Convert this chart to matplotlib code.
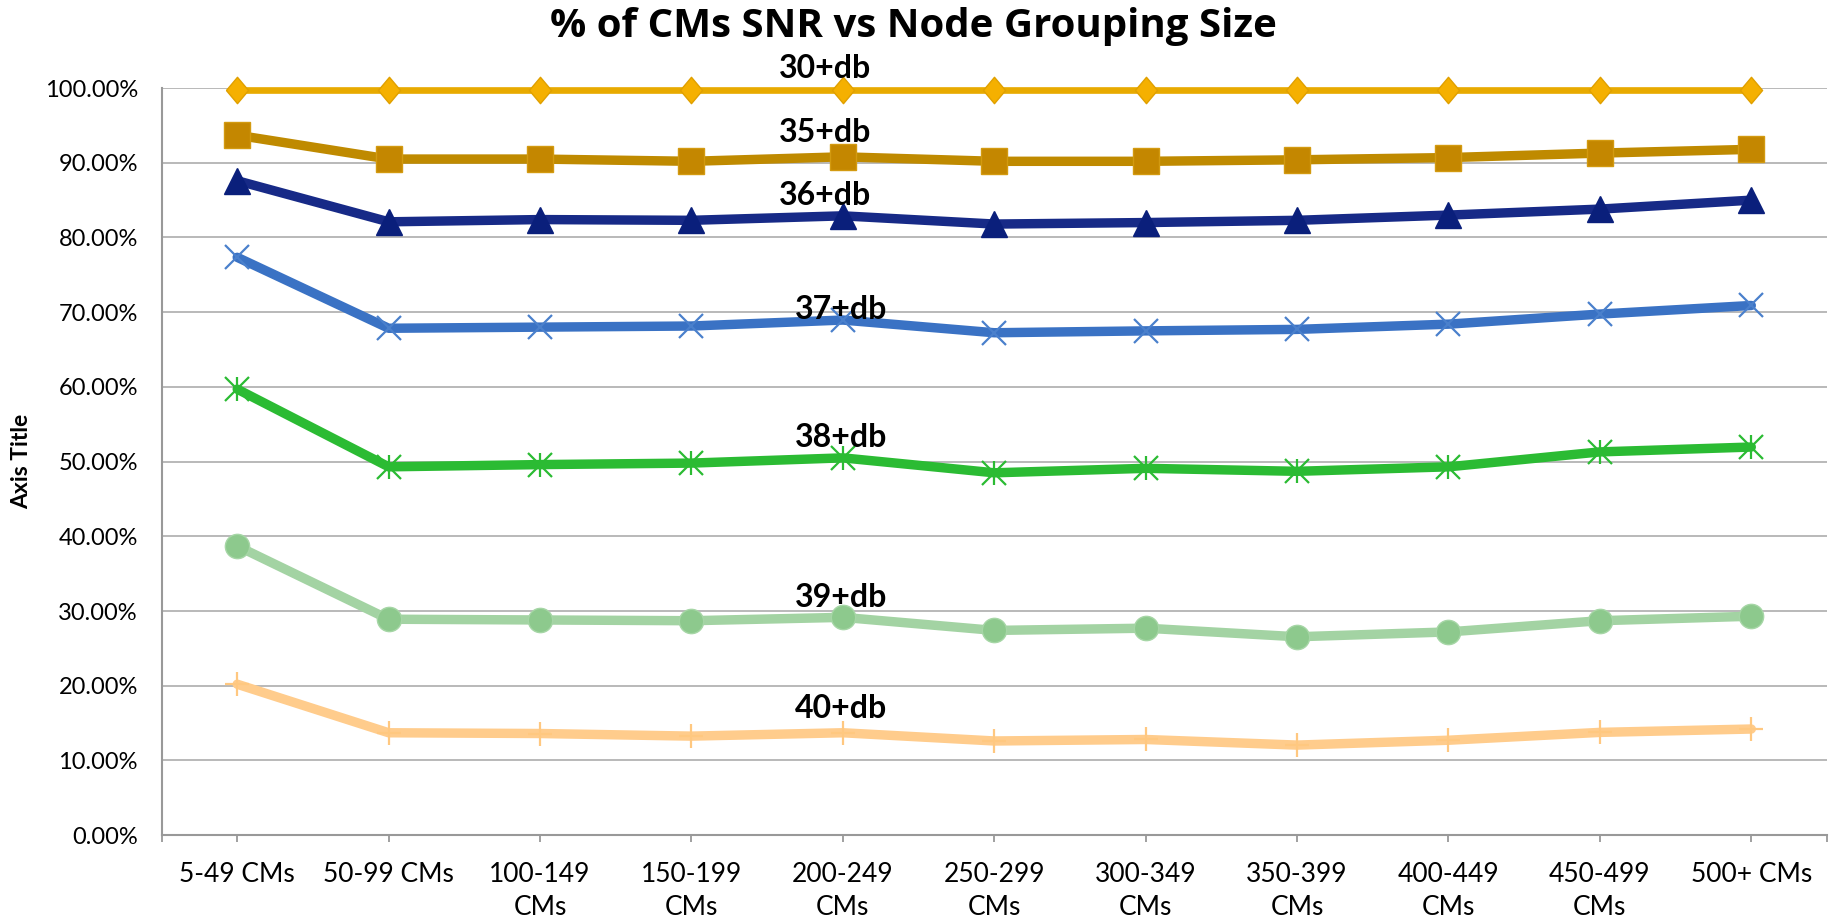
import matplotlib
matplotlib.use("Agg")
import matplotlib.pyplot as plt
from matplotlib.ticker import FuncFormatter, FixedLocator

plt.rcParams['font.family'] = ['Lato', 'DejaVu Sans']

categories = ['5-49 CMs', '50-99 CMs', '100-149\nCMs', '150-199\nCMs', '200-249\nCMs',
              '250-299\nCMs', '300-349\nCMs', '350-399\nCMs', '400-449\nCMs',
              '450-499\nCMs', '500+ CMs']

series_names = ['30+db', '35+db', '36+db', '37+db', '38+db', '39+db', '40+db']
s30 = [99.7, 99.7, 99.7, 99.7, 99.7, 99.7, 99.7, 99.7, 99.7, 99.7, 99.7]
s35 = [93.7, 90.5, 90.5, 90.2, 90.8, 90.2, 90.2, 90.4, 90.7, 91.3, 91.8]
s36 = [87.6, 82.1, 82.4, 82.3, 82.9, 81.8, 82.0, 82.3, 83.0, 83.8, 85.0]
s37 = [77.35, 67.85, 68.0, 68.15, 68.95, 67.25, 67.5, 67.7, 68.4, 69.75, 70.9]
s38 = [59.7, 49.3, 49.6, 49.8, 50.5, 48.5, 49.1, 48.7, 49.3, 51.3, 51.95]
s39 = [38.7, 28.9, 28.8, 28.7, 29.15, 27.4, 27.7, 26.55, 27.2, 28.7, 29.3]
s40 = [20.2, 13.7, 13.6, 13.25, 13.7, 12.6, 12.8, 12.05, 12.7, 13.75, 14.2]
all_series = [s30, s35, s36, s37, s38, s39, s40]

yticks = [0, 10, 20, 30, 40, 50, 60, 70, 80, 90, 100]

W, H = 1835, 922
fig = plt.figure(figsize=(W / 100, H / 100), dpi=100)
x0, x1, ytop, ybot = 161.5, 1827, 88.1, 835.1
ax = fig.add_axes([x0 / W, 1 - ybot / H, (x1 - x0) / W, (ybot - ytop) / H])

# style per series
diamond = [(-0.84, 0), (0, 1), (0.84, 0), (0, -1), (-0.84, 0)]
styles = [
    dict(color='#E8AA00', lw=4.8, marker=diamond, ms=19, mfc='#F5B000', mec='#E0A000', mew=1.0),
    dict(color='#BF8A00', lw=6.8, marker='s', ms=18.5, mfc='#C48700', mec='#D39A10', mew=1.0),
    dict(color='#172A87', lw=6.8, marker='^', ms=19, mfc='#0A1F7B', mec='#0A1F7B', mew=1.0),
    dict(color='#3A72C4', lw=6.8, marker='x', ms=17, mfc='#3A72C4', mec='#4A80CC', mew=1.6),
    dict(color='#2BBB33', lw=6.8, marker='x', ms=17, mfc='#2BBB33', mec='#2BBB33', mew=1.6),
    dict(color='#A3D3A3', lw=6.8, marker='o', ms=17.5, mfc='#8DC98D', mec='#A6D6A6', mew=1.0),
    dict(color='#FFCC8C', lw=6.8, marker='+', ms=17, mfc='#FFCC8C', mec='#FFC880', mew=1.6),
]

xs = list(range(len(categories)))
for i, (vals, st) in enumerate(zip(all_series, styles)):
    v = [a / 100 for a in vals]
    ax.plot(xs, v, solid_joinstyle='round', solid_capstyle='round', clip_on=False,
            zorder=3 + i, **st)
    if series_names[i] == '38+db':
        ax.plot(xs, v, linestyle='none', marker='|', ms=17, mec='#2BBB33', mew=1.6,
                clip_on=False, zorder=3 + i)

# data labels (series names) near 200-249 point
label_offsets_px = [(-18, 12.5), (-18, 15.2), (-18, 10.5), (-2, 1.5), (-2, 11.2), (-2, 10.5), (-2, 14.5)]
for name, vals, (dx, dy) in zip(series_names, all_series, label_offsets_px):
    ax.annotate(name, xy=(4, vals[4] / 100), xytext=(dx * 0.72, dy * 0.72),
                textcoords='offset points', ha='center', va='baseline',
                fontsize=23, fontweight='bold', color='black', zorder=20,
                annotation_clip=False)

ax.set_xlim(-0.5, 10.5)
ax.set_ylim(0, 1.0)
ax.set_xticks(xs)
ax.set_xticklabels(categories, fontsize=19, linespacing=1.4)
ax.set_xticks([-0.5, 10.5], minor=True)
ax.yaxis.set_major_locator(FixedLocator([t / 100 for t in yticks]))
ax.yaxis.set_major_formatter(FuncFormatter(lambda v, p: f'{v * 100:.2f}%'))

ax.tick_params(axis='y', length=0, pad=17, labelsize=17, labelcolor='black')
ax.tick_params(axis='x', which='both', length=5, width=1.3, color='#999999', pad=14.5,
               labelcolor='black')

for side in ['top', 'right']:
    ax.spines[side].set_visible(False)
for side in ['left', 'bottom']:
    ax.spines[side].set_color('#999999')
    ax.spines[side].set_linewidth(1.5)

ax.yaxis.grid(True, color='#A6A6A6', linewidth=1.1)
ax.set_axisbelow(True)

fig.text(913 / W, 1 - 27 / H, '% of CMs SNR vs Node Grouping Size', ha='center', va='center',
         fontsize=29, fontweight='bold', color='black', family=['Open Sans', 'DejaVu Sans'])
fig.text(22 / W, 1 - 461 / H, 'Axis Title', rotation=90, ha='center', va='center',
         fontsize=16.5, fontweight='bold', color='black')

fig.savefig('out.png', dpi=100)
